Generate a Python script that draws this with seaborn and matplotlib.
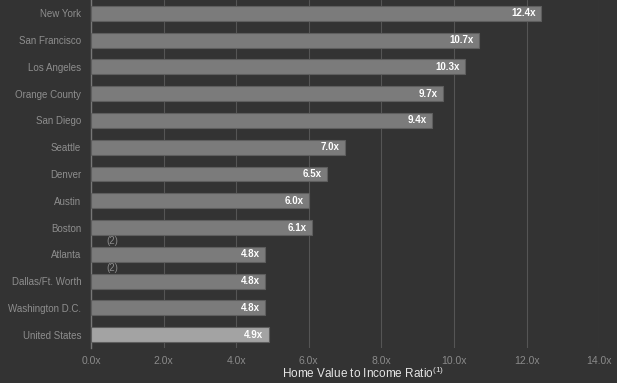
import numpy as np
import pandas as pd
import seaborn as sns
import matplotlib.pyplot as plt

# Data
cities = ["New York", "San Francisco", "Los Angeles", "Orange County", "San Diego",
          "Seattle", "Denver", "Austin", "Boston", "Atlanta", "Dallas/Ft. Worth",
          "Washington D.C.", "United States"]
ratios = [12.4, 10.7, 10.3, 9.7, 9.4, 7.0, 6.5, 6.0, 6.1, 4.8, 4.8, 4.8, 4.9]
footnoted = ["Atlanta", "Dallas/Ft. Worth"]
xticks = [0, 2, 4, 6, 8, 10, 12, 14]

df = pd.DataFrame({"city": cities, "ratio": ratios})

bg = "#333333"
bar_col = "#7b7b7b"
us_col = "#a3a3a3"
palette = [us_col if c == "United States" else bar_col for c in cities]

sns.set_theme(style="dark")
plt.rcParams["font.family"] = ["Liberation Sans", "DejaVu Sans"]
plt.rcParams["mathtext.fontset"] = "custom"
plt.rcParams["mathtext.rm"] = "Liberation Sans"

fig = plt.figure(figsize=(6.17, 3.83), dpi=100, facecolor=bg)
ax = fig.add_axes([0.1475, 0.0914, 0.8235, 0.9086])
ax.set_facecolor(bg)

sns.barplot(data=df, x="ratio", y="city", hue="city", palette=palette,
            legend=False, width=0.56, edgecolor="#5e5e5e", linewidth=0.8,
            saturation=1, ax=ax, zorder=3)

ax.set_xlim(0, 14)
ax.set_ylim(12.5, -0.5)
ax.set_xticks(xticks)
ax.set_xticklabels([f"{t:.1f}x" for t in xticks], color="#8a8a8a", fontsize=7.5)
ax.tick_params(axis="y", colors="#8e8e8e", labelsize=7, length=0, pad=7)
ax.tick_params(axis="x", length=0, pad=6)
ax.grid(axis="x", color="#555555", linewidth=0.8, zorder=0)
ax.grid(axis="y", visible=False)
for s in ["top", "right", "bottom"]:
    ax.spines[s].set_visible(False)
ax.spines["left"].set_color("#777777")
ax.spines["left"].set_linewidth(1)

for i, v in enumerate(ratios):
    ax.text(v - 0.15, i, f"{v:.1f}x", ha="right", va="center",
            color="white", fontsize=7, fontweight="bold", zorder=4)

for c in footnoted:
    i = cities.index(c)
    ax.text(0.58, i - 0.5, "(2)", ha="center", va="center",
            color="#8a8a8a", fontsize=7, zorder=4)

ax.set_ylabel("")
ax.set_xlabel(r"Home Value to Income Ratio$^{(1)}$", color="#e6e6e6",
              fontsize=8.5)
ax.xaxis.set_label_coords(0.535, -0.05)

fig.savefig("out.png", dpi=100, facecolor=bg)
